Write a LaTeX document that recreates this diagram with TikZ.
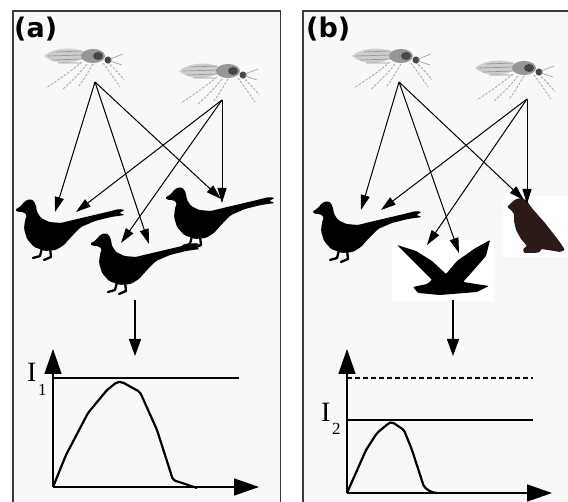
\documentclass[tikz,border=0pt]{standalone}
\usepackage{fontspec}
\newfontfamily\panelfont{DejaVu Sans}
\newfontfamily\axisfont{Liberation Serif}
\usetikzlibrary{arrows.meta}

\definecolor{panelbg}{RGB}{248,248,248}
\definecolor{framegray}{RGB}{60,60,60}
\definecolor{birdblack}{RGB}{0,0,0}
\definecolor{eaglebrown}{RGB}{43,26,23}
\definecolor{mosqlight}{RGB}{205,205,205}
\definecolor{mosqmid}{RGB}{150,150,150}
\definecolor{mosqdark}{RGB}{70,70,70}
\definecolor{mosqleg}{RGB}{165,165,165}

\tikzset{
  bite/.style={-{Triangle[length=15pt,width=9pt]}, line width=1pt},
  flow/.style={-{Triangle[length=17pt,width=12pt]}, line width=1.2pt},
  axis/.style={-{Triangle[length=25pt,width=17pt]}, line width=1.5pt},
  level/.style={line width=1.2pt},
  curve/.style={line width=2.2pt, rounded corners=2pt, line join=round},
  paneltag/.style={inner sep=0pt, anchor=base west, font=\panelfont\bfseries\fontsize{27}{27}\selectfont},
  axislabel/.style={inner sep=0pt, anchor=base west, font=\axisfont\fontsize{28}{28}\selectfont},
  axissub/.style={inner sep=0pt, anchor=base west, font=\axisfont\fontsize{17}{17}\selectfont},
  mosquito/.pic={
    % legs
    \begin{scope}[draw=mosqleg, line width=0.8pt, dash pattern=on 2.5pt off 1.5pt]
      \draw (-26,2) .. controls (-38,12) and (-50,20) .. (-62,28);
      \draw (-21,4) .. controls (-29,14) and (-37,22) .. (-46,30);
      \draw (-15,4) .. controls (-20,12) and (-24,20) .. (-30,27);
      \draw (-5,3) .. controls (0,10) and (6,18) .. (12,27);
      \draw (-1,2) .. controls (4,6) and (10,12) .. (16,20);
    \end{scope}
    % wings and abdomen
    \fill[mosqlight] (-64,-4) .. controls (-52,-14) and (-30,-13) .. (-20,-6)
      .. controls (-30,5) and (-52,6) .. cycle;
    \draw[mosqmid, line width=0.7pt]
      (-60,-4) -- (-24,-5) (-56,0) -- (-25,-1) (-52,-8) -- (-26,-9)
      (-50,3) -- (-28,3);
    \fill[mosqmid] (-15,-4) ellipse [x radius=12, y radius=7];
    \fill[mosqdark] (-10,-4) ellipse [x radius=5, y radius=4];
    \fill[mosqdark] (0,0) circle [radius=3.5];
    \draw[mosqleg, line width=0.7pt] (2,-1) -- (15,-6) (2,1) -- (14,5);
  },
  pheasant/.pic={
    \fill[birdblack, rounded corners=1.5pt]
      (0,12) -- (6,8) -- (10,3) -- (15,1) -- (19,3) -- (21,8) -- (22,14)
      -- (26,20) -- (34,24) -- (46,25) -- (58,22) -- (75,18) -- (92,14)
      -- (104,11) -- (110,12) -- (104,15) -- (110,17) -- (96,19)
      -- (80,23) -- (66,29) -- (57,38) -- (49,47) -- (41,52)
      -- (30,53) -- (19,49) -- (12,41) -- (9,31) -- (10,22) -- (12,17)
      -- (8,14) -- (3,14) -- cycle;
    \draw[birdblack, line width=2.3pt, line cap=round, line join=round]
      (27,50) -- (25,58) -- (18,60);
    \draw[birdblack, line width=2.3pt, line cap=round, line join=round]
      (35,50) -- (36,59) -- (29,62);
  }
}

\begin{document}
\begin{tikzpicture}[x=1pt, y=-1pt]
  \useasboundingbox (0,0) rectangle (568,502);
  \clip (0,0) rectangle (568,502);
  \fill[white] (0,0) rectangle (568,502);

  % panel frames, open at the bottom edge
  \filldraw[fill=panelbg, draw=framegray, line width=1.6pt] (13,11) rectangle (280.5,530);
  \filldraw[fill=panelbg, draw=framegray, line width=1.6pt] (303,11) rectangle (590,530);

  \node[paneltag] (taga) at (14,38) {(a)};
  \node[paneltag] (tagb) at (306,38) {(b)};

  % ---------------- panel (a): three pheasants ----------------
  \pic at (108,60) {mosquito};
  \pic at (243,75) {mosquito};
  \pic at (15,198) {pheasant};
  \pic at (165,186) {pheasant};
  \pic at (90,232) {pheasant};

  \coordinate (sa1) at (95,82);
  \coordinate (sa2) at (222,100);
  \coordinate (ta1) at (55,212);
  \coordinate (ta2) at (149,244);
  \coordinate (ta3) at (221,199);
  \coordinate (ta4) at (76,212);
  \coordinate (ta5) at (121,243);
  \coordinate (ta6) at (222,203);
  \draw[bite] (sa1) -- (ta1);
  \draw[bite] (sa1) -- (ta2);
  \draw[bite] (sa1) -- (ta3);
  \draw[bite] (sa2) -- (ta4);
  \draw[bite] (sa2) -- (ta5);
  \draw[bite] (sa2) -- (ta6);

  \coordinate (fa0) at (135,300);
  \coordinate (fa1) at (135,356);
  \draw[flow] (fa0) -- (fa1);

  % infection curve (a)
  \coordinate (oa) at (53,487);
  \coordinate (ya) at (53,349);
  \coordinate (xa) at (259,487);
  \coordinate (la0) at (53,378);
  \coordinate (la1) at (239,378);
  \draw[level] (la0) -- (la1);
  \draw[axis] (oa) -- (ya);
  \draw[axis] (oa) -- (xa);
  \draw[curve] (53,487) -- (66,455) -- (88,413) -- (107,390) -- (117,382)
    -- (122,382) -- (140,392) -- (157,430) -- (173,480) -- (182,483) -- (197,488);
  \node[axislabel] (ia) at (27,382) {I};
  \node[axissub] (ia1) at (38,396) {1};

  % ---------------- panel (b): pheasant, goose, eagle ----------------
  \pic at (416,60) {mosquito};
  \pic at (539,72) {mosquito};
  \pic at (312,200) {pheasant};

  % goose in flight on its white patch
  \fill[white] (392,240) rectangle (494,301);
  \fill[birdblack, rounded corners=1pt]
    (397,245) -- (416,251) -- (432,261) -- (446,274) -- (457,261) -- (474,249)
    -- (490,240) -- (486,256) -- (472,272) -- (463,282) -- (476,284) -- (489,286)
    -- (477,292) -- (440,295) -- (418,293) -- (413,287) -- (427,284) -- (432,280)
    -- (418,266) -- cycle;

  % eagle on its white patch
  \fill[white] (503,196) rectangle (568,257);
  \fill[eaglebrown, rounded corners=1pt]
    (507,207) -- (511,203) -- (516,199) -- (522,198) -- (527,201) -- (531,207)
    -- (537,214) -- (545,223) -- (552,232) -- (559,241) -- (565,250)
    -- (560,252) -- (548,250) -- (541,249) -- (540,252) -- (535,253)
    -- (524,253) -- (523,249) -- (527,246) -- (521,239) -- (516,230)
    -- (514,221) -- (514,214) -- (511,210) -- cycle;

  \coordinate (sb1) at (399,82);
  \coordinate (sb2) at (527,99);
  \coordinate (tb1) at (361,210);
  \coordinate (tb2) at (459,253);
  \coordinate (tb3) at (524,200);
  \coordinate (tb4) at (381,210);
  \coordinate (tb5) at (427,245);
  \coordinate (tb6) at (527,204);
  \draw[bite] (sb1) -- (tb1);
  \draw[bite] (sb1) -- (tb2);
  \draw[bite] (sb1) -- (tb3);
  \draw[bite] (sb2) -- (tb4);
  \draw[bite] (sb2) -- (tb5);
  \draw[bite] (sb2) -- (tb6);

  \coordinate (fb0) at (453,300);
  \coordinate (fb1) at (453,356);
  \draw[flow] (fb0) -- (fb1);

  % infection curve (b)
  \coordinate (ob) at (347,493);
  \coordinate (yb) at (347,349);
  \coordinate (xb) at (552,493);
  \coordinate (lb0) at (347,378);
  \coordinate (lb1) at (533,378);
  \coordinate (lb2) at (347,420);
  \coordinate (lb3) at (533,420);
  \draw[level, dash pattern=on 5pt off 3pt] (lb0) -- (lb1);
  \draw[level] (lb2) -- (lb3);
  \draw[axis] (ob) -- (yb);
  \draw[axis] (ob) -- (xb);
  \draw[curve] (347,493) -- (366,450) -- (377,433) -- (389,423) -- (392,422)
    -- (404,430) -- (412,450) -- (424,487) -- (431,492) -- (437,493);
  \node[axislabel] (ib) at (321,422) {I};
  \node[axissub] (ib2) at (332,435) {2};
\end{tikzpicture}
\end{document}
